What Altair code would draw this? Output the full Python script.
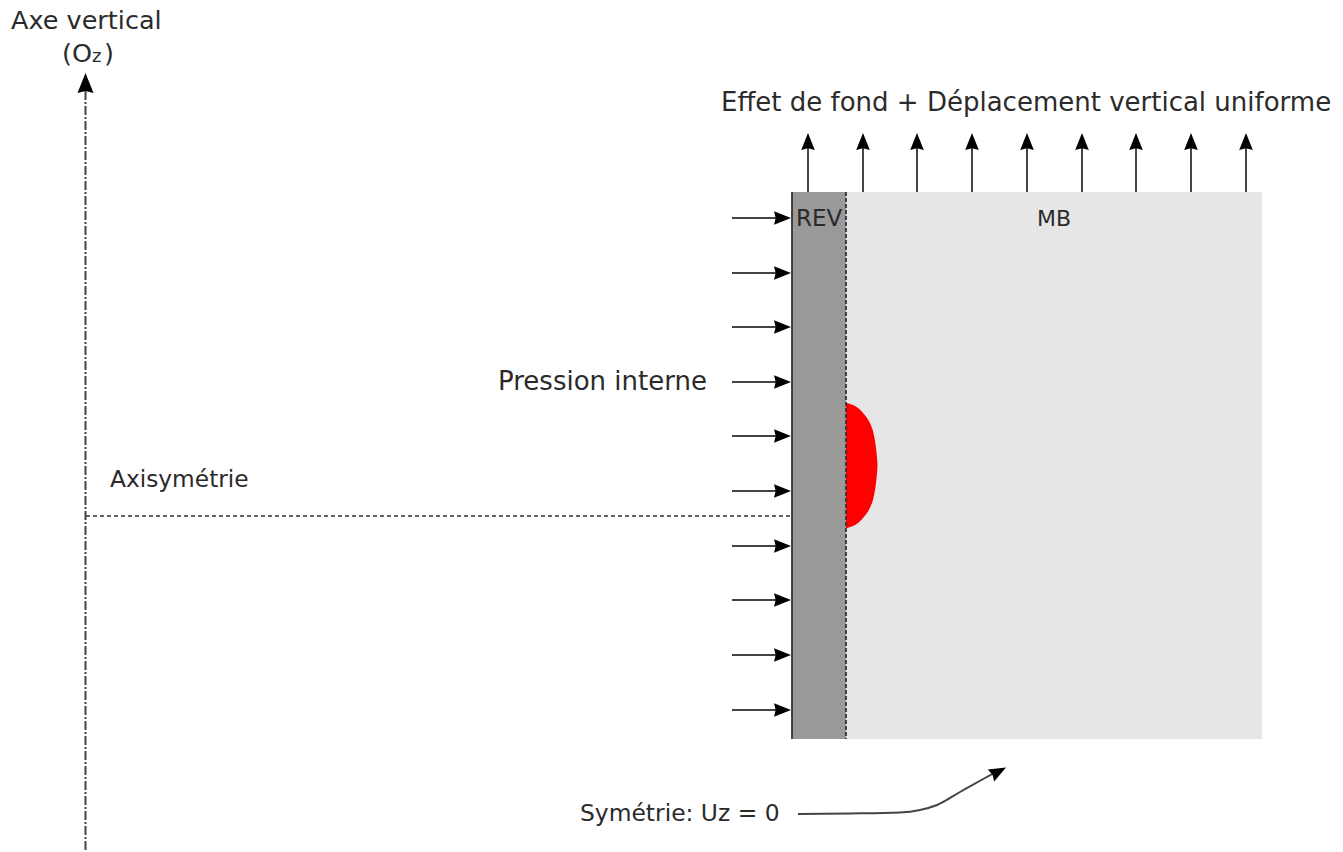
import altair as alt
import pandas as pd

# Reference-picture coordinates (x to the right, y downward)
REGION_X = [792, 846, 846, 1262]
REGION_Y = [192, 739]
REGION_NAMES = ["REV", "MB"]
REGION_COLORS = ["#999999", "#e6e6e6"]

UP_ARROW_X = [808, 863, 917, 972, 1027, 1082, 1136, 1191, 1246]
PRESSURE_ARROW_Y = [218, 273, 327, 382, 436, 491, 546, 600, 655, 710]

DEFECT_Y = [403, 405, 408, 413, 418, 428, 438, 448, 458, 465.5, 473, 483, 493, 503, 513, 518, 523, 526, 528]
DEFECT_X = [847, 853, 858, 863, 867, 872, 874.5, 876, 877, 877.5, 877, 876, 874.5, 872, 867, 863, 858, 853, 847]

CURVE_X = [798, 850, 900, 920, 937, 960, 985, 996]
CURVE_Y = [814, 813.5, 812.5, 810, 805, 792, 778, 772]

LABEL_TEXT = ["Axe vertical", "(O", "z", ")", "Effet de fond + Déplacement vertical uniforme",
              "Pression interne", "Axisymétrie", "Symétrie: Uz = 0", "REV", "MB"]
LABEL_X = [11, 62, 92, 104, 721, 498, 110, 580, 796, 1037]
LABEL_Y = [29, 62, 62, 62, 111, 390, 487, 821, 226, 226]
LABEL_SIZE = [25.5, 25.5, 18, 25.5, 26, 26, 23.3, 23.4, 23, 22]

X0, X1, Y0, Y1 = 8, 1335, 8, 844
xs = alt.Scale(domain=[X0, X1], nice=False, zero=False)
ys = alt.Scale(domain=[Y1, Y0], nice=False, zero=False)
X = lambda f: alt.X(f, type="quantitative", scale=xs, axis=None)
Y = lambda f: alt.Y(f, type="quantitative", scale=ys, axis=None)
INK = "#2b2b2b"
LINE = "#444444"
HEAD = "M0,-1 L0.8,1 L0,0.8 L-0.8,1 Z"

regions = pd.DataFrame({
    "name": REGION_NAMES, "x": REGION_X[0::2], "x2": REGION_X[1::2],
    "y": REGION_Y[0], "y2": REGION_Y[1], "c": REGION_COLORS})
rects = alt.Chart(regions).mark_rect().encode(
    x=X("x"), x2="x2", y=Y("y"), y2="y2", color=alt.Color("c:N", scale=None))

defect = alt.Chart(pd.DataFrame({"x": DEFECT_X, "y": DEFECT_Y, "x2": 846})).mark_area(
    orient="horizontal", interpolate="monotone", color="#ff0000").encode(
    x=X("x"), x2="x2", y=Y("y"))

wall = alt.Chart(pd.DataFrame({"x": [792], "y": [192], "y2": [739]})).mark_rule(
    color="#333333", strokeWidth=1.8).encode(x=X("x"), y=Y("y"), y2="y2")
interface = alt.Chart(pd.DataFrame({"x": [846], "y": [192], "y2": [739]})).mark_rule(
    color="#333333", strokeWidth=1.8, strokeDash=[4, 2]).encode(x=X("x"), y=Y("y"), y2="y2")

axis_line = alt.Chart(pd.DataFrame({"x": [85.5], "y": [850], "y2": [90]})).mark_rule(
    color=LINE, strokeWidth=2, strokeDash=[9, 2, 2, 2]).encode(x=X("x"), y=Y("y"), y2="y2")
axis_head = alt.Chart(pd.DataFrame({"x": [85.5], "y": [83]})).mark_point(
    shape=HEAD, filled=True, opacity=1, color="black", size=400, strokeWidth=0).encode(x=X("x"), y=Y("y"))

sym_line = alt.Chart(pd.DataFrame({"x": [86], "x2": [790], "y": [516]})).mark_rule(
    color="#333333", strokeWidth=1.5, strokeDash=[4, 3]).encode(x=X("x"), x2="x2", y=Y("y"))

up = pd.DataFrame({"x": UP_ARROW_X, "y": 192, "y2": 147, "hy": 141.5})
up_shafts = alt.Chart(up).mark_rule(color=LINE, strokeWidth=2).encode(x=X("x"), y=Y("y"), y2="y2")
up_heads = alt.Chart(up).mark_point(shape=HEAD, filled=True, opacity=1, color="black", size=289,
                                    strokeWidth=0).encode(x=X("x"), y=Y("hy"))

pr = pd.DataFrame({"y": PRESSURE_ARROW_Y, "x": 732, "x2": 778, "hx": 782.5})
pr_shafts = alt.Chart(pr).mark_rule(color=LINE, strokeWidth=2).encode(x=X("x"), x2="x2", y=Y("y"))
pr_heads = alt.Chart(pr).mark_point(shape=HEAD, filled=True, opacity=1, color="black", size=289,
                                    strokeWidth=0, angle=90).encode(x=X("hx"), y=Y("y"))

curve = alt.Chart(pd.DataFrame({"x": CURVE_X, "y": CURVE_Y})).mark_line(
    color=LINE, strokeWidth=2, interpolate="monotone").encode(x=X("x"), y=Y("y"), order=alt.Order("x:Q"))
curve_head = alt.Chart(pd.DataFrame({"x": [998.5], "y": [771.5]})).mark_point(
    shape=HEAD, filled=True, opacity=1, color="black", size=289, strokeWidth=0, angle=62).encode(x=X("x"), y=Y("y"))

labels = alt.Chart(pd.DataFrame({"t": LABEL_TEXT, "x": LABEL_X, "y": LABEL_Y, "s": LABEL_SIZE})).mark_text(
    align="left", baseline="alphabetic", font="DejaVu Sans", color=INK).encode(
    x=X("x"), y=Y("y"), text="t:N", size=alt.Size("s:Q", scale=None, legend=None))

chart = alt.layer(
    rects, defect, wall, interface, axis_line, axis_head, sym_line,
    up_shafts, up_heads, pr_shafts, pr_heads, curve, curve_head, labels
).properties(width=X1 - X0, height=Y1 - Y0, padding=0, background="white"
).configure_view(stroke=None)

chart.save("out.html", embed_options={"renderer": "svg", "actions": False})
